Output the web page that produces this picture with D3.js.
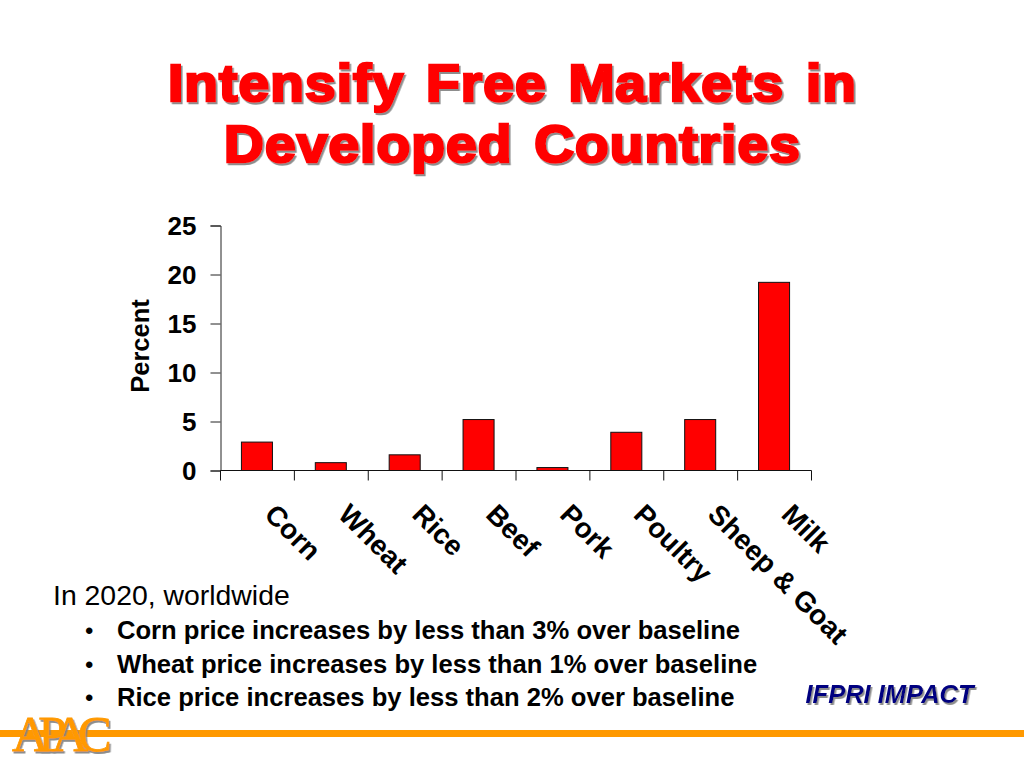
<!DOCTYPE html>
<html>
<head>
<meta charset="utf-8">
<script src="https://cdn.jsdelivr.net/npm/d3@7"></script>
<style>
html, body { margin: 0; padding: 0; background: #fff; }
svg { display: block; font-family: "Liberation Sans", Arial, sans-serif; }
</style>
</head>
<body>
<svg id="slide" width="1024" height="768"></svg>
<script>
var categories = ['Corn', 'Wheat', 'Rice', 'Beef', 'Pork', 'Poultry', 'Sheep & Goat', 'Milk'];
var percentValues = [2.9, 0.8, 1.6, 5.2, 0.3, 3.9, 5.2, 19.2];
var yTicks = [0, 5, 10, 15, 20, 25];
var titleLines = ['Intensify Free Markets in', 'Developed Countries'];
var introLine = 'In 2020, worldwide';
var bullets = [
    'Corn price increases by less than 3% over baseline',
    'Wheat price increases by less than 1% over baseline',
    'Rice price increases by less than 2% over baseline'
];

var svg = d3.select('#slide');

// soft grey shadow used by the title, the source tag and the logo
var shadow = svg.append('defs').append('filter')
    .attr('id', 'shadow')
    .attr('x', '-5%').attr('y', '-20%').attr('width', '110%').attr('height', '140%');
shadow.append('feDropShadow')
    .attr('dx', 1.5).attr('dy', 2).attr('stdDeviation', 0.7)
    .attr('flood-color', '#808080').attr('flood-opacity', 0.9);

// title glyphs are wider and heavier than Liberation bold, so stretch them a bit
titleLines.forEach((line, i) => {
    svg.append('text')
        .attr('transform', `translate(512.5,${101 + i * 60.5}) scale(1.06,1)`)
        .attr('text-anchor', 'middle').attr('font-size', 52).attr('font-weight', 'bold')
        .attr('letter-spacing', 1).attr('word-spacing', 5.1)
        .attr('fill', '#ff0000').attr('stroke', '#ff0000').attr('stroke-width', 2.6)
        .attr('filter', 'url(#shadow)')
        .text(line);
});

var x = d3.scaleBand().domain(categories).range([220, 811]).paddingInner(0.58).paddingOuter(0.29);
var y = d3.scaleLinear().domain([0, 25]).range([470.5, 225.5]);

// bars
svg.selectAll('rect.bar')
    .data(percentValues)
    .enter()
    .append('rect')
    .attr('class', 'bar')
    .attr('x', (d, i) => x(categories[i]))
    .attr('y', d => y(d))
    .attr('width', x.bandwidth())
    .attr('height', d => y(0) - y(d))
    .attr('fill', '#ff0000')
    .attr('stroke', '#111')
    .attr('stroke-width', 1);

// y axis
var yAxis = svg.append('g')
    .attr('transform', 'translate(220.5,0)')
    .call(d3.axisLeft(y).tickValues(yTicks).tickSize(10).tickPadding(14));
yAxis.selectAll('path, line').attr('stroke', '#222').attr('stroke-width', 1);
yAxis.selectAll('text')
    .attr('font-size', 26).attr('font-weight', 'bold').attr('font-family', '"Liberation Sans", Arial, sans-serif')
    .attr('fill', '#000').attr('dy', '0.36em');

// x axis, ticks sit between the bars
var step = x.step();
var xEdges = d3.range(categories.length + 1).map(i => 220.5 + i * step);
svg.append('line')
    .attr('x1', xEdges[0]).attr('x2', xEdges[xEdges.length - 1])
    .attr('y1', y(0)).attr('y2', y(0))
    .attr('stroke', '#111');
svg.selectAll('line.xtick')
    .data(xEdges)
    .enter()
    .append('line')
    .attr('class', 'xtick')
    .attr('x1', d => d).attr('x2', d => d)
    .attr('y1', y(0)).attr('y2', y(0) + 10)
    .attr('stroke', '#111');

svg.selectAll('text.xlabel')
    .data(categories)
    .enter()
    .append('text')
    .attr('class', 'xlabel')
    .attr('transform', d => `translate(${x(d) + x.bandwidth() / 2 + 6},516) rotate(45)`)
    .attr('font-size', 28)
    .attr('font-weight', 'bold')
    .attr('fill', '#000')
    .text(d => d);

svg.append('text')
    .attr('transform', 'translate(149,346) rotate(-90)')
    .attr('text-anchor', 'middle')
    .attr('font-size', 25.5)
    .attr('font-weight', 'bold')
    .text('Percent');

// notes under the chart
svg.append('text').attr('x', 53).attr('y', 605).attr('font-size', 28.4).text(introLine);
bullets.forEach((b, i) => {
    var by = 639 + i * 33.5;
    svg.append('text').attr('x', 85).attr('y', by).attr('font-size', 24).text('•');
    svg.append('text').attr('x', 117).attr('y', by).attr('font-size', 25.6).attr('font-weight', 'bold').text(b);
});

// source tag
svg.append('text').attr('x', 805.5).attr('y', 703).attr('font-size', 25.5)
    .attr('font-weight', 'bold').attr('font-style', 'italic').attr('fill', '#000080')
    .attr('filter', 'url(#shadow)').text('IFPRI IMPACT');

// footer rule and logo
svg.append('rect').attr('x', 0).attr('y', 730).attr('width', 1024).attr('height', 7).attr('fill', '#ff9900');
svg.append('text').attr('x', 12).attr('y', 751).attr('font-size', 51)
    .attr('font-family', '"Liberation Serif", serif').attr('letter-spacing', -10.5)
    .attr('fill', '#ff9900').attr('stroke', '#ff9900').attr('stroke-width', 0.8)
    .attr('filter', 'url(#shadow)').text('APAC');
</script>
</body>
</html>
